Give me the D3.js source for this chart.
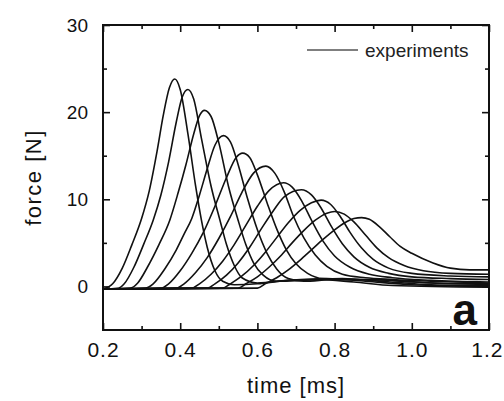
<!DOCTYPE html>
<html lang="en">
  <head>
    <meta charset="UTF-8" />
    <title>force vs time</title>
    <script src="https://cdn.jsdelivr.net/npm/d3@7"></script>
    <style>
      body { margin: 0; background: #fff; }
      svg { font-family: "Liberation Sans", Arial, sans-serif; }
    </style>
  </head>
  <body>
    <svg width="504" height="401"></svg>

    <script>
      var pulse1 = [[0.20,-0.3],[0.225,0.3],[0.25,2.1],[0.275,4.8],[0.30,7.8],[0.32,11],[0.34,15.5],[0.356,19.6],[0.372,22.8],[0.386,23.8],[0.40,22.6],[0.42,17.5],[0.44,11.5],[0.455,7.6],[0.47,4.5],[0.49,1.8],[0.51,0.6],[0.54,0.2],[0.60,0.3],[0.68,0.7],[0.76,0.8],[0.85,0.5],[0.95,0.1],[1.2,-0.1]];
      var pulse2 = [[0.20,-0.3],[0.24,-0.2],[0.255,0.3],[0.28,2.2],[0.305,4.8],[0.33,7.6],[0.35,10.5],[0.37,14.3],[0.39,18.9],[0.405,21.7],[0.42,22.6],[0.435,21.5],[0.455,17],[0.48,11.5],[0.503,7.6],[0.52,4.8],[0.54,2.4],[0.56,1.0],[0.60,0.4],[0.68,0.7],[0.78,0.9],[0.88,0.6],[1.0,0.2],[1.2,0.0]];
      var pulse3 = [[0.20,-0.3],[0.27,-0.2],[0.29,0.4],[0.315,2.2],[0.345,4.8],[0.373,7.6],[0.395,10.8],[0.415,14],[0.435,17.5],[0.45,19.6],[0.463,20.2],[0.48,19.5],[0.50,16.5],[0.525,11.5],[0.55,7.6],[0.57,4.8],[0.59,2.7],[0.615,1.3],[0.65,0.6],[0.72,0.7],[0.82,0.9],[0.92,0.6],[1.05,0.2],[1.2,0.1]];
      var pulse4 = [[0.20,-0.3],[0.31,-0.2],[0.33,0.3],[0.36,2.0],[0.39,4.2],[0.41,6.0],[0.43,7.8],[0.45,10.5],[0.47,13.5],[0.49,16.2],[0.512,17.3],[0.53,16.6],[0.55,14],[0.575,10],[0.60,6.5],[0.625,3.8],[0.65,2.0],[0.68,0.9],[0.72,0.6],[0.80,0.8],[0.90,0.8],[1.0,0.5],[1.2,0.2]];
      var pulse5 = [[0.20,-0.3],[0.35,-0.2],[0.37,0.3],[0.40,1.8],[0.43,3.8],[0.46,6.2],[0.49,9.2],[0.52,12.5],[0.545,14.8],[0.562,15.3],[0.58,14.8],[0.60,12.8],[0.625,9.6],[0.65,6.6],[0.675,4.2],[0.70,2.6],[0.73,1.5],[0.77,0.9],[0.85,0.8],[0.95,0.7],[1.05,0.4],[1.2,0.3]];
      var pulse6 = [[0.20,-0.3],[0.39,-0.2],[0.41,0.3],[0.44,1.6],[0.47,3.3],[0.50,5.5],[0.53,8.0],[0.56,10.8],[0.59,13.0],[0.622,13.8],[0.645,13.0],[0.67,10.8],[0.692,8.2],[0.72,5.6],[0.75,3.6],[0.78,2.3],[0.82,1.4],[0.88,1.0],[0.95,0.8],[1.05,0.6],[1.2,0.4]];
      var pulse7 = [[0.20,-0.3],[0.43,-0.2],[0.45,0.3],[0.48,1.4],[0.51,2.9],[0.54,4.8],[0.57,7.0],[0.60,9.2],[0.63,11.0],[0.668,11.9],[0.69,11.4],[0.715,9.8],[0.74,7.6],[0.77,5.2],[0.80,3.5],[0.84,2.2],[0.89,1.4],[0.95,1.0],[1.05,0.7],[1.2,0.5]];
      var pulse8 = [[0.20,-0.3],[0.47,-0.2],[0.49,0.3],[0.52,1.3],[0.55,2.7],[0.58,4.5],[0.61,6.6],[0.64,8.6],[0.67,10.3],[0.714,11.1],[0.74,10.5],[0.765,9.0],[0.79,7.0],[0.82,4.9],[0.85,3.4],[0.89,2.2],[0.94,1.5],[1.0,1.1],[1.1,0.9],[1.2,0.8]];
      var pulse9 = [[0.20,-0.3],[0.51,-0.2],[0.53,0.3],[0.56,1.2],[0.59,2.4],[0.62,3.9],[0.65,5.6],[0.68,7.3],[0.71,8.7],[0.74,9.6],[0.765,9.9],[0.79,9.4],[0.815,8.0],[0.84,6.2],[0.87,4.4],[0.90,3.1],[0.94,2.1],[1.0,1.5],[1.1,1.2],[1.2,1.1]];
      var pulse10 = [[0.20,-0.3],[0.55,-0.2],[0.57,0.3],[0.60,1.1],[0.63,2.2],[0.66,3.5],[0.69,5.0],[0.72,6.4],[0.75,7.6],[0.78,8.4],[0.80,8.6],[0.825,8.3],[0.85,7.4],[0.88,5.9],[0.91,4.4],[0.94,3.3],[0.98,2.4],[1.03,1.8],[1.1,1.5],[1.2,1.4]];
      var pulse11 = [[0.20,-0.3],[0.60,-0.2],[0.62,0.3],[0.65,1.0],[0.68,1.9],[0.71,3.0],[0.74,4.2],[0.77,5.4],[0.80,6.5],[0.83,7.4],[0.85,7.8],[0.87,7.9],[0.89,7.7],[0.915,6.9],[0.943,5.7],[0.97,4.6],[1.0,3.8],[1.055,2.7],[1.1,2.1],[1.15,1.9],[1.2,1.9]];

      var pulses = [pulse1, pulse2, pulse3, pulse4, pulse5, pulse6, pulse7, pulse8, pulse9, pulse10, pulse11];

      var xMajor = [0.2, 0.4, 0.6, 0.8, 1.0, 1.2];
      var xMinor = [0.3, 0.5, 0.7, 0.9, 1.1];
      var yMajor = [0, 10, 20, 30];
      var yMinor = [5, 15, 25];
      var legendLabel = "experiments";
      var panelLetter = "a";

      var svg = d3.select("svg"),
        margin = { top: 25, right: 15, bottom: 71, left: 103 },
        width = +svg.attr("width") - margin.left - margin.right,
        height = +svg.attr("height") - margin.top - margin.bottom;

      var x = d3.scaleLinear().domain([0.2, 1.2]).range([0, width]),
        y = d3.scaleLinear().domain([-5, 30]).range([height, 0]);

      var g = svg
        .append("g")
        .attr("transform", "translate(" + margin.left + "," + margin.top + ")");

      // inward ticks on all four sides
      function styleAxis(sel) {
        sel.select(".domain").remove();
        sel.selectAll("line").attr("stroke", "#111").attr("stroke-width", 1.6);
        sel.selectAll("text").attr("fill", "#111");
      }

      var xLabels = g.append("g")
        .attr("transform", "translate(0," + height + ")")
        .call(d3.axisBottom(x).tickValues(xMajor).tickSize(-7).tickPadding(12).tickFormat(d3.format(".1f")))
        .call(styleAxis)
        .selectAll("text")
        .style("font-size", "21px")
        .style("letter-spacing", "1px");
      // last label sits against the right edge of the picture
      xLabels.filter(function (d) { return d === 1.2; })
        .attr("text-anchor", "end")
        .attr("x", 14);
      g.append("g")
        .attr("transform", "translate(0," + height + ")")
        .call(d3.axisBottom(x).tickValues(xMinor).tickSize(-4).tickFormat(""))
        .call(styleAxis);
      g.append("g")
        .call(d3.axisTop(x).tickValues(xMajor).tickSize(-7).tickFormat(""))
        .call(styleAxis);
      g.append("g")
        .call(d3.axisTop(x).tickValues(xMinor).tickSize(-4).tickFormat(""))
        .call(styleAxis);

      g.append("g")
        .call(d3.axisLeft(y).tickValues(yMajor).tickSize(-7).tickPadding(15))
        .call(styleAxis)
        .selectAll("text")
        .style("font-size", "19px");
      g.append("g")
        .call(d3.axisLeft(y).tickValues(yMinor).tickSize(-4).tickFormat(""))
        .call(styleAxis);
      g.append("g")
        .attr("transform", "translate(" + width + ",0)")
        .call(d3.axisRight(y).tickValues(yMajor).tickSize(-7).tickFormat(""))
        .call(styleAxis);
      g.append("g")
        .attr("transform", "translate(" + width + ",0)")
        .call(d3.axisRight(y).tickValues(yMinor).tickSize(-4).tickFormat(""))
        .call(styleAxis);

      var line = d3
        .line()
        .x(function (d) { return x(d[0]); })
        .y(function (d) { return y(d[1]); })
        .curve(d3.curveMonotoneX);

      g.selectAll(".pulse")
        .data(pulses)
        .enter()
        .append("path")
        .attr("class", "pulse")
        .attr("fill", "none")
        .attr("stroke", "#111")
        .attr("stroke-width", 1.6)
        .attr("d", line);

      // frame
      g.append("rect")
        .attr("width", width)
        .attr("height", height)
        .attr("fill", "none")
        .attr("stroke", "#111")
        .attr("stroke-width", 2);

      // legend
      g.append("line")
        .attr("x1", 204).attr("x2", 255)
        .attr("y1", 25).attr("y2", 25)
        .attr("stroke", "#555")
        .attr("stroke-width", 1.4);
      g.append("text")
        .attr("x", 262)
        .attr("y", 32)
        .style("font-size", "19px")
        .attr("fill", "#222")
        .text(legendLabel);

      g.append("text")
        .attr("x", width - 12)
        .attr("y", height - 5)
        .attr("text-anchor", "end")
        .style("font-size", "44px")
        .style("font-weight", "bold")
        .attr("fill", "#111")
        .text(panelLetter);

      // axis titles
      svg.append("text")
        .attr("x", margin.left + width / 2)
        .attr("y", 393)
        .attr("text-anchor", "middle")
        .style("font-size", "22px")
        .style("letter-spacing", "1px")
        .attr("fill", "#111")
        .text("time [ms]");
      svg.append("text")
        .attr("transform", "translate(41," + (margin.top + y(12.5)) + ") rotate(-90)")
        .attr("text-anchor", "middle")
        .style("font-size", "22px")
        .style("letter-spacing", "1.5px")
        .attr("fill", "#111")
        .text("force [N]");
    </script>
  </body>
</html>
